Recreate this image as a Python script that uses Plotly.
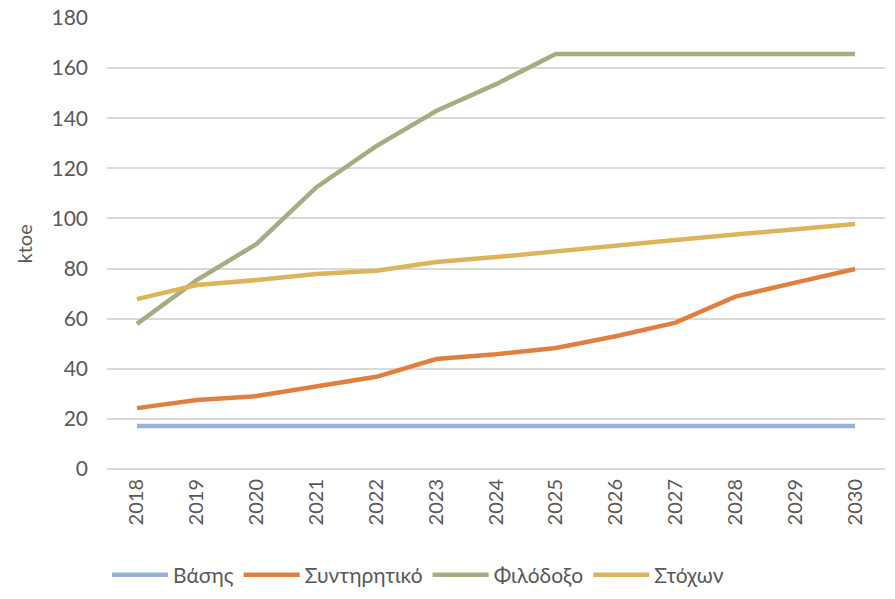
import plotly.graph_objects as go

years = [str(y) for y in range(2018, 2031)]
vaseis = [17.2] * 13
syntiritiko = [24.3, 27.5, 29.1, 33.0, 36.8, 43.9, 45.8, 48.3, 53.0, 58.4, 68.8, 74.4, 79.8]
filodoxo = [57.9, 75.4, 89.8, 112.5, 128.9, 142.9, 153.6, 165.6, 165.6, 165.6, 165.6, 165.6, 165.6]
stoxon = [67.8, 73.4, 75.4, 77.8, 79.1, 82.6, 84.6, 87.0, 89.4, 91.4, 93.6, 95.8, 97.8]

names = ["Βάσης", "Συντηρητικό", "Φιλόδοξο", "Στόχων"]
colors = ["#95B3D7", "#E0803F", "#A6AD80", "#DCB45A"]
series = [vaseis, syntiritiko, filodoxo, stoxon]

fig = go.Figure()
for n, c, s in zip(names, colors, series):
    fig.add_trace(go.Scatter(x=years, y=s, name=n, mode="lines",
                             line=dict(color=c, width=4.5)))

fig.update_layout(
    width=895, height=599,
    margin=dict(l=107, r=10, t=18, b=130, autoexpand=False),
    paper_bgcolor="white", plot_bgcolor="white",
    font=dict(family="Lato, DejaVu Sans", color="#595959", size=17),
    showlegend=True,
    legend=dict(orientation="h", x=0.0, xanchor="left", y=-0.235, yanchor="middle",
                font=dict(family="Lato, DejaVu Sans", size=21, color="#595959"),
                itemwidth=56, tracegroupgap=0),
    annotations=[dict(text="ktoe", xref="paper", yref="paper", x=-0.1067, y=0.5,
                      xanchor="center", yanchor="middle", textangle=-90, showarrow=False,
                      font=dict(size=20, color="#595959"))],
)
fig.update_xaxes(type="category", range=[-0.5, 12.5], tickangle=-90, automargin=False,
                 showgrid=False, showline=False, ticks="", ticklabelstandoff=5,
                 ticklabeloverflow="allow",
                 tickfont=dict(size=20, color="#595959"))
fig.update_yaxes(range=[0, 180], dtick=20, showgrid=True, gridcolor="#D9D9D9", automargin=False,
                 gridwidth=1.5, zeroline=True, zerolinecolor="#D9D9D9", zerolinewidth=1.5,
                 ticklabelstandoff=18, ticklabeloverflow="allow",
                 tickfont=dict(size=21, color="#595959"))

fig.write_html("out.html", config={"displayModeBar": False},
               post_script="document.body.style.margin='0px';")
